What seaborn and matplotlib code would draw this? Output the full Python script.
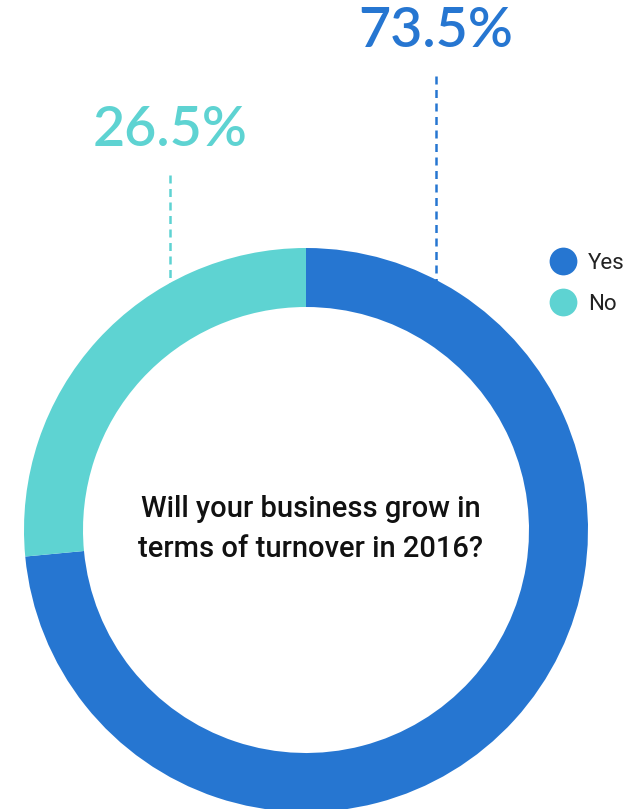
import matplotlib
matplotlib.use("Agg")
import matplotlib.pyplot as plt
from matplotlib.lines import Line2D
import seaborn as sns

# Survey answers
answers = ["Yes", "No"]
shares = [73.5, 26.5]
question = "Will your business grow in\nterms of turnover in 2016?"

sns.set_theme(style="white")
plt.rcParams["font.family"] = ["Roboto", "DejaVu Sans"]

colors = ["#2676D1", "#5ED3D2"]

W, H = 635, 809
fig = plt.figure(figsize=(W / 100, H / 100), dpi=100)
ax = fig.add_axes([0, 0, 1, 1])

# pixel-style coordinates, y measured from the top
def py(y):
    return H - y

cx, cy = 306, 530
r_out, ring = 282, 59

ax.pie(shares, colors=colors, startangle=90, counterclock=False,
       radius=r_out, center=(cx, py(cy)),
       wedgeprops=dict(width=ring, linewidth=0, edgecolor="none"),
       frame=True)

ax.set_xlim(0, W)
ax.set_ylim(0, H)
ax.set_aspect("equal")
ax.axis("off")

# value callouts with dashed leaders
callouts = [(436, 31, 76), (170, 130, 175)]
for (x, ty, ly), v, c in zip(callouts, shares, colors):
    ax.text(x, py(ty), f"{v}%", color=c, fontsize=40, family=["Lato", "DejaVu Sans"],
            ha="center", va="center", fontweight="semibold")
    ax.plot([x, x], [py(ly), py(310)], color=c, lw=1.8, ls=(0, (3.2, 2.2)), zorder=0)

ax.text(311, py(529), question, ha="center", va="center", fontsize=21,
        fontweight="medium", color="#111111", linespacing=1.55)

handles = [Line2D([], [], marker="o", ls="", markersize=20, markeredgewidth=0, color=c)
           for c in colors]
ax.legend(handles, answers, loc="upper left", bbox_to_anchor=(539 / W, 1 - 242 / H),
          frameon=False, fontsize=16, handletextpad=0.5, labelspacing=0.9,
          borderpad=0, handlelength=1.2, labelcolor="#222222")

fig.savefig("out.png", dpi=100)
